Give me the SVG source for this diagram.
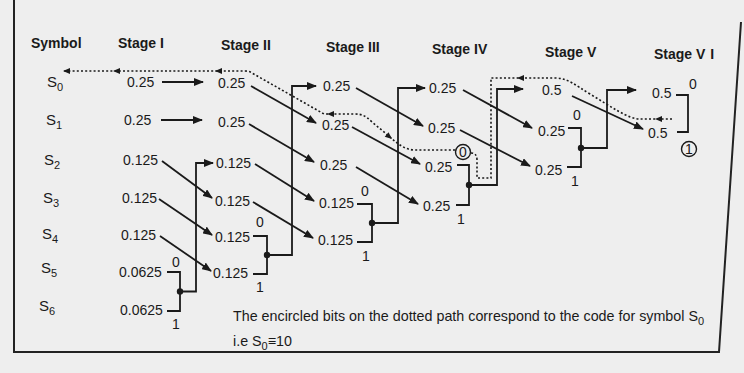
<svg xmlns="http://www.w3.org/2000/svg" width="744" height="373" viewBox="0 0 744 373">
<defs>
<style>
.h{font-family:"Liberation Sans",Arial,sans-serif;font-weight:bold;font-size:14px;fill:#1a1a1a}
.v{font-family:"Liberation Sans",Arial,sans-serif;font-size:14px;fill:#1a1a1a}
.s{font-family:"Liberation Sans",Arial,sans-serif;font-size:15px;fill:#1a1a1a}
.sub{font-size:11px}
.b{font-family:"Liberation Sans",Arial,sans-serif;font-size:14px;fill:#1a1a1a}
.n{font-family:"Liberation Sans",Arial,sans-serif;font-size:14.3px;fill:#1a1a1a}
.ln{fill:none;stroke:#1a1a1a;stroke-width:1.8}
.ar{fill:none;stroke:#1a1a1a;stroke-width:1.8;marker-end:url(#ah)}
.dot{fill:none;stroke:#1a1a1a;stroke-width:1.6;stroke-dasharray:2 2.2}
.jn{fill:#1a1a1a}
.ring{fill:none;stroke:#1a1a1a;stroke-width:1.4}
.frame{fill:none;stroke:#222;stroke-width:2}
</style>
<marker id="ah" markerUnits="userSpaceOnUse" markerWidth="10" markerHeight="8" refX="9" refY="4" orient="auto">
<path d="M0,0 L10,4 L0,8 z" fill="#1a1a1a"/>
</marker>
<path id="dah" d="M0,0 L7,-3 L7,3 z" fill="#1a1a1a"/>
</defs>
<rect width="744" height="373" fill="#eeeeee"/>
<g id="frame">
<path class="frame" d="M14,0 V352 H719 L741,22"/>
</g>
<g id="headers">
<text class="h" x="31" y="48">Symbol</text>
<text class="h" x="118" y="48">Stage I</text>
<text class="h" x="221" y="50">Stage II</text>
<text class="h" x="326" y="52">Stage III</text>
<text class="h" x="432" y="54">Stage IV</text>
<text class="h" x="545" y="57">Stage V</text>
<text class="h" x="654" y="59">Stage V<tspan dx="5">I</tspan></text>
</g>
<g id="symbols">
<text class="s" x="47" y="87">S<tspan class="sub" dy="4">0</tspan></text>
<text class="s" x="46" y="125">S<tspan class="sub" dy="4">1</tspan></text>
<text class="s" x="44" y="165">S<tspan class="sub" dy="4">2</tspan></text>
<text class="s" x="43" y="203">S<tspan class="sub" dy="4">3</tspan></text>
<text class="s" x="42" y="239">S<tspan class="sub" dy="4">4</tspan></text>
<text class="s" x="41" y="273">S<tspan class="sub" dy="4">5</tspan></text>
<text class="s" x="39" y="311">S<tspan class="sub" dy="4">6</tspan></text>
</g>
<g id="stage1">
<text class="v" x="127" y="87">0.25</text>
<text class="v" x="124" y="125">0.25</text>
<text class="v" x="123" y="165">0.125</text>
<text class="v" x="122" y="203">0.125</text>
<text class="v" x="121" y="240">0.125</text>
<text class="v" x="119" y="277">0.0625</text>
<text class="v" x="120" y="315">0.0625</text>
</g>
<g id="stage2">
<text class="v" x="218" y="88">0.25</text>
<text class="v" x="218" y="127">0.25</text>
<text class="v" x="216" y="168">0.125</text>
<text class="v" x="215" y="206">0.125</text>
<text class="v" x="215" y="242">0.125</text>
<text class="v" x="213" y="278">0.125</text>
</g>
<g id="stage3">
<text class="v" x="323" y="91">0.25</text>
<text class="v" x="322" y="130">0.25</text>
<text class="v" x="320" y="170">0.25</text>
<text class="v" x="319" y="208">0.125</text>
<text class="v" x="318" y="245">0.125</text>
</g>
<g id="stage4">
<text class="v" x="429" y="93">0.25</text>
<text class="v" x="428" y="133">0.25</text>
<text class="v" x="425" y="172">0.25</text>
<text class="v" x="423" y="211">0.25</text>
</g>
<g id="stage5">
<text class="v" x="542" y="95">0.5</text>
<text class="v" x="538" y="136">0.25</text>
<text class="v" x="535" y="175">0.25</text>
</g>
<g id="stage6">
<text class="v" x="652" y="98">0.5</text>
<text class="v" x="648" y="138">0.5</text>
</g>
<g id="bits">
<text class="b" x="172" y="267">0</text>
<text class="b" x="172" y="329">1</text>
<text class="b" x="256" y="227">0</text>
<text class="b" x="256" y="292">1</text>
<text class="b" x="361" y="196">0</text>
<text class="b" x="362" y="261">1</text>
<text class="b" x="459" y="157">0</text>
<circle class="ring" cx="463" cy="152" r="7.5"/>
<text class="b" x="457" y="224">1</text>
<text class="b" x="573" y="120">0</text>
<text class="b" x="571" y="186">1</text>
<text class="b" x="689" y="89">0</text>
<text class="b" x="685" y="154">1</text>
<circle class="ring" cx="689" cy="149" r="7.5"/>
</g>
<g id="connectors">
<path class="ar" d="M162,82 H203"/>
<path class="ar" d="M161,120 H202"/>
<path class="ar" d="M162,161 L212,198"/>
<path class="ar" d="M159,199 L212,235"/>
<path class="ar" d="M160,236 L211,271"/>
<path class="ln" d="M167,272 H180 V311 H167"/>
<circle class="jn" cx="180" cy="291.5" r="3.2"/>
<path class="ar" d="M180,291.5 H196 V163 H213"/>
<path class="ar" d="M251,86 L316,123"/>
<path class="ar" d="M249,124 L314,162"/>
<path class="ar" d="M255,164 L314,201"/>
<path class="ar" d="M253,202 L313,238"/>
<path class="ln" d="M253,236 H267 V274 H253"/>
<circle class="jn" cx="267" cy="255" r="3.2"/>
<path class="ar" d="M267,255 H292 V86 H316"/>
<path class="ar" d="M356,88 L423,126"/>
<path class="ar" d="M352,127 L420,164"/>
<path class="ar" d="M356,167 L418,204"/>
<path class="ln" d="M357,204 H372 V242 H357"/>
<circle class="jn" cx="372" cy="223" r="3.2"/>
<path class="ar" d="M372,223 H398 V88 H425"/>
<path class="ar" d="M463,90 L532,128"/>
<path class="ar" d="M460,130 L530,166"/>
<path class="ln" d="M457,165 H469 V205 H456"/>
<circle class="jn" cx="469" cy="185" r="3.2"/>
<path class="ar" d="M469,185 H497 V89 H523"/>
<path class="ar" d="M572,96 L643,129"/>
<path class="ln" d="M568,128 H581 V167 H567"/>
<circle class="jn" cx="581" cy="148" r="3.2"/>
<path class="ar" d="M581,148 H607 V90 H636"/>
<path class="ln" d="M676,95 H688 V132 H677"/>
<path class="dot" d="M672,119 H640 C628,119 610,106 590,94 C575,85 568,78 555,78 H491 V178 H477 V160 Q477,153 471,153"/>
<path class="dot" d="M455,150 H415 C405,150 398,144 390,137 L372,122 C366,116 362,114 355,114 H324 L252,73 Q249,71 245,71 H64"/>
<use href="#dah" transform="translate(63,71)"/>
<use href="#dah" transform="translate(113,71)"/>
<use href="#dah" transform="translate(215,71)"/>
<use href="#dah" transform="translate(327,114)"/>
<use href="#dah" transform="translate(392,139) rotate(220)"/>
<use href="#dah" transform="translate(517,78)"/>
<use href="#dah" transform="translate(655,119)"/>
</g>
<g id="note">
<text class="n" x="233" y="321">The encircled bits on the dotted path correspond to the code for symbol S<tspan class="sub" dy="4">0</tspan></text>
<text class="n" x="233" y="346">i.e S<tspan class="sub" dy="4">0</tspan><tspan dy="-4">≡10</tspan></text>
</g>
</svg>
